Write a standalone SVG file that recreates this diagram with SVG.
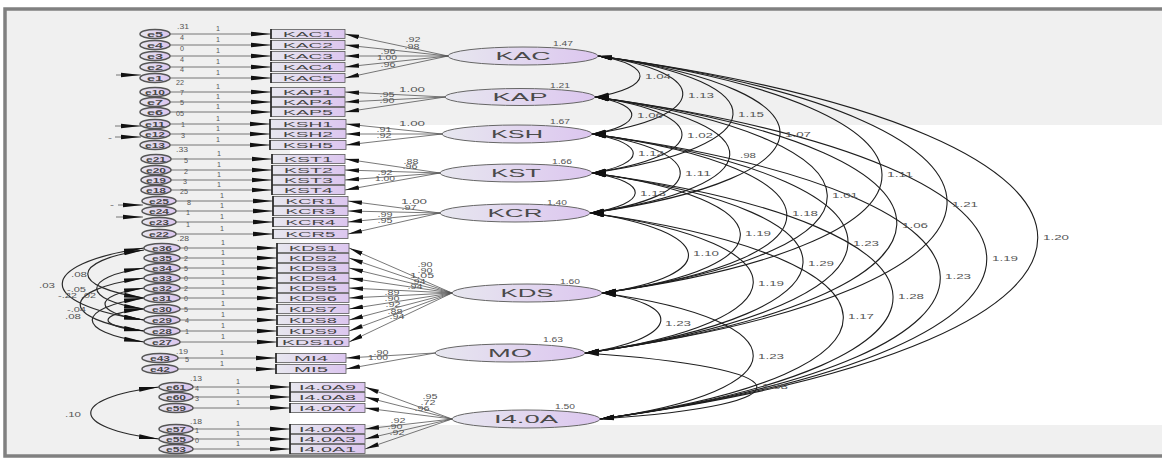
<svg xmlns="http://www.w3.org/2000/svg" width="1162" height="461" viewBox="0 0 1162 461">
<defs>
<linearGradient id="g" x1="0" y1="0" x2="1" y2="0"><stop offset="0" stop-color="#e7e7ef"/><stop offset="1" stop-color="#dcc6ef"/></linearGradient>
<marker id="ah" viewBox="0 0 20 6" markerUnits="userSpaceOnUse" markerWidth="20" markerHeight="6" refX="20" refY="3" orient="auto-start-reverse"><path d="M0,0.7 L20,3 L0,5.3 Z" fill="#111"/></marker>
<marker id="am" viewBox="0 0 14 6" markerUnits="userSpaceOnUse" markerWidth="14" markerHeight="6" refX="14" refY="3" orient="auto-start-reverse"><path d="M0,0.7 L14,3 L0,5.3 Z" fill="#111"/></marker>
</defs>
<style>
text{font-family:"Liberation Sans",Arial,sans-serif}
.ob{fill:url(#g);stroke:#5a5a5a;stroke-width:0.8}
.oe{stroke:#222;stroke-width:1.6}
.lv{fill:url(#g);stroke:#666;stroke-width:1}
.ec{fill:url(#g);stroke:#555;stroke-width:1.5}
.bt{font-size:7.5px;fill:#444}
.et{font-size:7.5px;font-weight:bold;fill:#474747}
.lt{font-size:11px;fill:#4a4a4a}
.nt{font-size:6.5px;fill:#555}
.r{fill:none;stroke:#666;stroke-width:0.9;marker-end:url(#ah)}
.l{fill:none;stroke:#555;stroke-width:0.8;marker-end:url(#am)}
.c{fill:none;stroke:#1e1e1e;stroke-width:1.1;marker-start:url(#am);marker-end:url(#am)}
.ce{fill:none;stroke:#2a2a2a;stroke-width:1.2;marker-start:url(#ah);marker-end:url(#ah)}
</style>
<rect x="0" y="0" width="1162" height="461" fill="#ffffff"/>
<rect x="5" y="9" width="1160" height="447" fill="#f0f0f0" stroke="#808080" stroke-width="3.5"/>
<rect x="290" y="125" width="872" height="300" fill="#ffffff"/>

<g id="connectors">
<path class="r" d="M170,34 L271,34"/><path class="r" d="M170,45 L271,45"/><path class="r" d="M170,56 L271,56"/><path class="r" d="M170,67 L271,67"/><path class="r" d="M170,78 L271,78"/>
<path class="r" d="M170,92 L271,92"/><path class="r" d="M170,102 L271,102"/><path class="r" d="M170,112 L271,112"/>
<path class="r" d="M170,124 L270,124"/><path class="r" d="M170,134 L270,134"/><path class="r" d="M170,145 L270,145"/>
<path class="r" d="M171,159 L272,159"/><path class="r" d="M171,170 L272,170"/><path class="r" d="M171,180 L272,180"/><path class="r" d="M171,190 L272,190"/>
<path class="r" d="M176,201 L273,201"/><path class="r" d="M176,211 L273,211"/><path class="r" d="M176,222 L273,222"/><path class="r" d="M176,234 L273,234"/>
<path class="r" d="M180,248 L277,248"/><path class="r" d="M180,258 L277,258"/><path class="r" d="M180,268 L277,268"/><path class="r" d="M180,278 L277,278"/><path class="r" d="M180,288 L277,288"/><path class="r" d="M180,298 L277,298"/><path class="r" d="M180,309 L277,309"/><path class="r" d="M180,320 L277,320"/><path class="r" d="M180,331 L277,331"/><path class="r" d="M180,342 L277,342"/>
<path class="r" d="M178,358 L276,358"/><path class="r" d="M178,369 L276,369"/>
<path class="r" d="M193,387 L290,387"/><path class="r" d="M193,397 L290,397"/><path class="r" d="M193,408 L290,408"/><path class="r" d="M193,429 L290,429"/><path class="r" d="M193,439 L290,439"/><path class="r" d="M193,449 L290,449"/>
<g class="nt">
<text x="216" y="31" textLength="4" lengthAdjust="spacingAndGlyphs">1</text><text x="216" y="42" textLength="4" lengthAdjust="spacingAndGlyphs">1</text><text x="216" y="53" textLength="4" lengthAdjust="spacingAndGlyphs">1</text><text x="216" y="64" textLength="4" lengthAdjust="spacingAndGlyphs">1</text><text x="216" y="75" textLength="4" lengthAdjust="spacingAndGlyphs">1</text>
<text x="216" y="89" textLength="4" lengthAdjust="spacingAndGlyphs">1</text><text x="216" y="99" textLength="4" lengthAdjust="spacingAndGlyphs">1</text><text x="216" y="109" textLength="4" lengthAdjust="spacingAndGlyphs">1</text>
<text x="216" y="121" textLength="4" lengthAdjust="spacingAndGlyphs">1</text><text x="216" y="131" textLength="4" lengthAdjust="spacingAndGlyphs">1</text><text x="216" y="142" textLength="4" lengthAdjust="spacingAndGlyphs">1</text>
<text x="217" y="156" textLength="4" lengthAdjust="spacingAndGlyphs">1</text><text x="217" y="167" textLength="4" lengthAdjust="spacingAndGlyphs">1</text><text x="217" y="177" textLength="4" lengthAdjust="spacingAndGlyphs">1</text><text x="217" y="187" textLength="4" lengthAdjust="spacingAndGlyphs">1</text>
<text x="220" y="198" textLength="4" lengthAdjust="spacingAndGlyphs">1</text><text x="220" y="208" textLength="4" lengthAdjust="spacingAndGlyphs">1</text><text x="220" y="219" textLength="4" lengthAdjust="spacingAndGlyphs">1</text><text x="220" y="231" textLength="4" lengthAdjust="spacingAndGlyphs">1</text>
<text x="221" y="245" textLength="4" lengthAdjust="spacingAndGlyphs">1</text><text x="221" y="255" textLength="4" lengthAdjust="spacingAndGlyphs">1</text><text x="221" y="265" textLength="4" lengthAdjust="spacingAndGlyphs">1</text><text x="221" y="275" textLength="4" lengthAdjust="spacingAndGlyphs">1</text><text x="221" y="285" textLength="4" lengthAdjust="spacingAndGlyphs">1</text><text x="221" y="295" textLength="4" lengthAdjust="spacingAndGlyphs">1</text><text x="221" y="306" textLength="4" lengthAdjust="spacingAndGlyphs">1</text><text x="221" y="317" textLength="4" lengthAdjust="spacingAndGlyphs">1</text><text x="221" y="328" textLength="4" lengthAdjust="spacingAndGlyphs">1</text><text x="221" y="339" textLength="4" lengthAdjust="spacingAndGlyphs">1</text>
<text x="220" y="355" textLength="4" lengthAdjust="spacingAndGlyphs">1</text><text x="220" y="366" textLength="4" lengthAdjust="spacingAndGlyphs">1</text>
<text x="236" y="384" textLength="4" lengthAdjust="spacingAndGlyphs">1</text><text x="236" y="394" textLength="4" lengthAdjust="spacingAndGlyphs">1</text><text x="236" y="405" textLength="4" lengthAdjust="spacingAndGlyphs">1</text><text x="236" y="426" textLength="4" lengthAdjust="spacingAndGlyphs">1</text><text x="236" y="436" textLength="4" lengthAdjust="spacingAndGlyphs">1</text><text x="236" y="446" textLength="4" lengthAdjust="spacingAndGlyphs">1</text>
</g>
<path class="l" d="M448,56 L345,34"/><path class="l" d="M448,56 L345,45"/><path class="l" d="M448,56 L345,56"/><path class="l" d="M448,56 L345,67"/><path class="l" d="M448,56 L345,78"/>
<path class="l" d="M445,97 L345,92"/><path class="l" d="M445,97 L345,102"/><path class="l" d="M445,97 L345,112"/>
<path class="l" d="M442,134 L346,124"/><path class="l" d="M442,134 L346,134"/><path class="l" d="M442,134 L346,145"/>
<path class="l" d="M440,173 L345,159"/><path class="l" d="M440,173 L345,170"/><path class="l" d="M440,173 L345,180"/><path class="l" d="M440,173 L345,190"/>
<path class="l" d="M440,213 L348,201"/><path class="l" d="M440,213 L348,211"/><path class="l" d="M440,213 L348,222"/><path class="l" d="M440,213 L348,234"/>
<path class="l" d="M452,293 L349,248"/><path class="l" d="M452,293 L349,258"/><path class="l" d="M452,293 L349,268"/><path class="l" d="M452,293 L349,278"/><path class="l" d="M452,293 L349,288"/><path class="l" d="M452,293 L349,298"/><path class="l" d="M452,293 L349,309"/><path class="l" d="M452,293 L349,320"/><path class="l" d="M452,293 L349,331"/><path class="l" d="M452,293 L349,342"/>
<path class="l" d="M435,353 L346,358"/><path class="l" d="M435,353 L346,369"/>
<path class="l" d="M452,419 L365,387"/><path class="l" d="M452,419 L365,397"/><path class="l" d="M452,419 L365,408"/><path class="l" d="M452,419 L365,429"/><path class="l" d="M452,419 L365,439"/><path class="l" d="M452,419 L365,449"/>
<g class="nt">
<text x="405.5" y="42.3" textLength="15" lengthAdjust="spacingAndGlyphs">.92</text><text x="404.5" y="49.3" textLength="15" lengthAdjust="spacingAndGlyphs">.98</text><text x="380.5" y="54.3" textLength="15" lengthAdjust="spacingAndGlyphs">.96</text><text x="377" y="60.3" textLength="20" lengthAdjust="spacingAndGlyphs">1.00</text><text x="380.5" y="67.3" textLength="15" lengthAdjust="spacingAndGlyphs">.96</text>
<text x="399" y="92.3" textLength="26" lengthAdjust="spacingAndGlyphs">1.00</text><text x="379.5" y="97.3" textLength="15" lengthAdjust="spacingAndGlyphs">.95</text><text x="379.5" y="103.3" textLength="15" lengthAdjust="spacingAndGlyphs">.90</text>
<text x="399" y="126.3" textLength="26" lengthAdjust="spacingAndGlyphs">1.00</text><text x="376.5" y="132.3" textLength="15" lengthAdjust="spacingAndGlyphs">.91</text><text x="376.5" y="138.3" textLength="15" lengthAdjust="spacingAndGlyphs">.92</text>
<text x="403.5" y="164.3" textLength="15" lengthAdjust="spacingAndGlyphs">.88</text><text x="402.5" y="169.3" textLength="15" lengthAdjust="spacingAndGlyphs">.96</text><text x="377.5" y="175.3" textLength="15" lengthAdjust="spacingAndGlyphs">.92</text><text x="375" y="181.3" textLength="20" lengthAdjust="spacingAndGlyphs">1.00</text>
<text x="401" y="204.3" textLength="26" lengthAdjust="spacingAndGlyphs">1.00</text><text x="401.5" y="210.3" textLength="15" lengthAdjust="spacingAndGlyphs">.97</text><text x="377.5" y="217.3" textLength="15" lengthAdjust="spacingAndGlyphs">.99</text><text x="377.5" y="223.3" textLength="15" lengthAdjust="spacingAndGlyphs">.95</text>
<text x="417.5" y="267.3" textLength="15" lengthAdjust="spacingAndGlyphs">.90</text><text x="417.5" y="273.3" textLength="15" lengthAdjust="spacingAndGlyphs">.90</text><text x="410" y="278.3" textLength="24" lengthAdjust="spacingAndGlyphs">1.05</text><text x="410.5" y="284.3" textLength="15" lengthAdjust="spacingAndGlyphs">.94</text><text x="407.5" y="289.3" textLength="15" lengthAdjust="spacingAndGlyphs">.94</text><text x="384.5" y="295.3" textLength="15" lengthAdjust="spacingAndGlyphs">.89</text><text x="384.5" y="301.3" textLength="15" lengthAdjust="spacingAndGlyphs">.90</text><text x="385.5" y="307.3" textLength="15" lengthAdjust="spacingAndGlyphs">.92</text><text x="387.5" y="314.3" textLength="15" lengthAdjust="spacingAndGlyphs">.88</text><text x="389.5" y="319.3" textLength="15" lengthAdjust="spacingAndGlyphs">.94</text>
<text x="373.5" y="355.3" textLength="15" lengthAdjust="spacingAndGlyphs">.90</text><text x="368" y="360.3" textLength="20" lengthAdjust="spacingAndGlyphs">1.00</text>
<text x="422.5" y="399.3" textLength="15" lengthAdjust="spacingAndGlyphs">.95</text><text x="420.5" y="405.3" textLength="15" lengthAdjust="spacingAndGlyphs">.72</text><text x="414.5" y="411.3" textLength="15" lengthAdjust="spacingAndGlyphs">.96</text><text x="390.5" y="423.3" textLength="15" lengthAdjust="spacingAndGlyphs">.92</text><text x="387.5" y="429.3" textLength="15" lengthAdjust="spacingAndGlyphs">.90</text><text x="389.5" y="435.3" textLength="15" lengthAdjust="spacingAndGlyphs">.92</text>
</g>
<path class="c" d="M598,56 C656,65 653,88 595,97"/>
<path class="c" d="M598,56 C715,73 709,117 592,134"/>
<path class="c" d="M598,56 C782,82 776,147 592,173"/>
<path class="c" d="M598,56 C846,91 838,178 590,213"/>
<path class="c" d="M598,56 C974,108 978,241 602,293"/>
<path class="c" d="M598,56 C1072,121 1059,288 585,353"/>
<path class="c" d="M598,56 C1183,136 1185,339 600,419"/>
<path class="c" d="M595,97 C646,105 643,126 592,134"/>
<path class="c" d="M595,97 C713,114 710,156 592,173"/>
<path class="c" d="M595,97 C778,123 773,187 590,213"/>
<path class="c" d="M595,97 C900,140 907,250 602,293"/>
<path class="c" d="M595,97 C1004,153 994,297 585,353"/>
<path class="c" d="M595,97 C1114,168 1119,348 600,419"/>
<path class="c" d="M592,134 C647,143 647,164 592,173"/>
<path class="c" d="M592,134 C711,151 709,196 590,213"/>
<path class="c" d="M592,134 C845,169 855,258 602,293"/>
<path class="c" d="M592,134 C938,182 931,305 585,353"/>
<path class="c" d="M592,134 C1051,197 1059,356 600,419"/>
<path class="c" d="M592,173 C651,182 649,204 590,213"/>
<path class="c" d="M592,173 C783,199 793,267 602,293"/>
<path class="c" d="M592,173 C878,213 871,313 585,353"/>
<path class="c" d="M592,173 C988,227 996,365 600,419"/>
<path class="c" d="M590,213 C713,231 725,275 602,293"/>
<path class="c" d="M590,213 C811,244 806,322 585,353"/>
<path class="c" d="M590,213 C921,258 931,374 600,419"/>
<path class="c" d="M602,293 C691,306 674,340 585,353"/>
<path class="c" d="M602,293 C805,321 803,391 600,419"/>
<path class="c" d="M585,353 C804,368 819,404 600,419"/>
<g class="nt">
<text x="645" y="79" textLength="26" lengthAdjust="spacingAndGlyphs">1.04</text><text x="688" y="97.5" textLength="26" lengthAdjust="spacingAndGlyphs">1.13</text><text x="738" y="117" textLength="26" lengthAdjust="spacingAndGlyphs">1.15</text><text x="785" y="137" textLength="26" lengthAdjust="spacingAndGlyphs">1.07</text><text x="887" y="177" textLength="26" lengthAdjust="spacingAndGlyphs">1.11</text><text x="952" y="207" textLength="26" lengthAdjust="spacingAndGlyphs">1.21</text><text x="1043" y="240" textLength="26" lengthAdjust="spacingAndGlyphs">1.20</text>
<text x="637" y="118" textLength="26" lengthAdjust="spacingAndGlyphs">1.06</text><text x="687" y="137.5" textLength="26" lengthAdjust="spacingAndGlyphs">1.02</text><text x="740" y="157.5" textLength="16" lengthAdjust="spacingAndGlyphs">.98</text><text x="832" y="197.5" textLength="26" lengthAdjust="spacingAndGlyphs">1.01</text><text x="902" y="227.5" textLength="26" lengthAdjust="spacingAndGlyphs">1.06</text><text x="992" y="260.5" textLength="26" lengthAdjust="spacingAndGlyphs">1.19</text>
<text x="638" y="156" textLength="26" lengthAdjust="spacingAndGlyphs">1.12</text><text x="685" y="176" textLength="26" lengthAdjust="spacingAndGlyphs">1.11</text><text x="792" y="216" textLength="26" lengthAdjust="spacingAndGlyphs">1.18</text><text x="853" y="246" textLength="26" lengthAdjust="spacingAndGlyphs">1.23</text><text x="945" y="279" textLength="26" lengthAdjust="spacingAndGlyphs">1.23</text>
<text x="640" y="195.5" textLength="26" lengthAdjust="spacingAndGlyphs">1.13</text><text x="745" y="235.5" textLength="26" lengthAdjust="spacingAndGlyphs">1.19</text><text x="808" y="265.5" textLength="26" lengthAdjust="spacingAndGlyphs">1.29</text><text x="898" y="298.5" textLength="26" lengthAdjust="spacingAndGlyphs">1.28</text>
<text x="693" y="255.5" textLength="26" lengthAdjust="spacingAndGlyphs">1.10</text><text x="758" y="285.5" textLength="26" lengthAdjust="spacingAndGlyphs">1.19</text><text x="848" y="318.5" textLength="26" lengthAdjust="spacingAndGlyphs">1.17</text>
<text x="665" y="325.5" textLength="26" lengthAdjust="spacingAndGlyphs">1.23</text><text x="758" y="358.5" textLength="26" lengthAdjust="spacingAndGlyphs">1.23</text>
<text x="762" y="388.5" textLength="26" lengthAdjust="spacingAndGlyphs">1.08</text>
</g>
<path class="r" d="M116,75 L141,75"/>
<path class="r" d="M115,126 L141,126"/><path class="r" d="M115,137 L141,137"/>
<path class="r" d="M118,205 L143,205"/><path class="r" d="M116,217 L143,217"/>
<path class="ce" d="M144,248 C35,264 35,304 144,320"/>
<path class="ce" d="M144,250 C69,261 69,287 144,298"/>
<path class="ce" d="M144,268 C81,277 81,300 144,309"/>
<path class="ce" d="M144,278 C59,290 59,319 144,331"/>
<path class="ce" d="M144,288 C92,295 92,313 144,320"/>
<path class="ce" d="M144,298 C75,308 75,332 144,342"/>
<path class="ce" d="M144,309 C96,314 96,326 144,331"/>
<path class="ce" d="M159,387 C68,398 68,428 159,439"/>
<g class="nt">
<text x="108" y="140" textLength="4" lengthAdjust="spacingAndGlyphs">-</text><text x="110" y="207" textLength="4" lengthAdjust="spacingAndGlyphs">-</text>
<text x="39" y="288.3" textLength="16" lengthAdjust="spacingAndGlyphs">.03</text><text x="71" y="277.3" textLength="16" lengthAdjust="spacingAndGlyphs">.08</text><text x="67" y="292.3" textLength="19" lengthAdjust="spacingAndGlyphs">-.05</text><text x="58" y="298.3" textLength="19" lengthAdjust="spacingAndGlyphs">-.22</text><text x="81" y="298.3" textLength="15" lengthAdjust="spacingAndGlyphs">.02</text><text x="67" y="312.3" textLength="19" lengthAdjust="spacingAndGlyphs">-.04</text><text x="65" y="319.3" textLength="16" lengthAdjust="spacingAndGlyphs">.08</text>
<text x="65" y="417.3" textLength="16" lengthAdjust="spacingAndGlyphs">.10</text>
</g>
</g>

<g id="error-variances" class="nt">
<text x="177" y="28.5" textLength="12" lengthAdjust="spacingAndGlyphs">.31</text><text x="180" y="40" textLength="4" lengthAdjust="spacingAndGlyphs">4</text><text x="180" y="51" textLength="4" lengthAdjust="spacingAndGlyphs">0</text><text x="180" y="62" textLength="4" lengthAdjust="spacingAndGlyphs">4</text><text x="180" y="72" textLength="4" lengthAdjust="spacingAndGlyphs">4</text><text x="176" y="85" textLength="8" lengthAdjust="spacingAndGlyphs">22</text><text x="180" y="95" textLength="4" lengthAdjust="spacingAndGlyphs">7</text><text x="180" y="105" textLength="4" lengthAdjust="spacingAndGlyphs">5</text><text x="176" y="116" textLength="8" lengthAdjust="spacingAndGlyphs">05</text>
<text x="181" y="127" textLength="4" lengthAdjust="spacingAndGlyphs">1</text><text x="181" y="138" textLength="4" lengthAdjust="spacingAndGlyphs">3</text><text x="176" y="152" textLength="12" lengthAdjust="spacingAndGlyphs">.33</text><text x="184" y="163" textLength="4" lengthAdjust="spacingAndGlyphs">5</text><text x="184" y="174" textLength="4" lengthAdjust="spacingAndGlyphs">2</text><text x="183" y="184" textLength="4" lengthAdjust="spacingAndGlyphs">3</text><text x="180" y="194" textLength="8" lengthAdjust="spacingAndGlyphs">25</text>
<text x="187" y="205" textLength="4" lengthAdjust="spacingAndGlyphs">8</text><text x="186" y="215" textLength="4" lengthAdjust="spacingAndGlyphs">1</text><text x="186" y="227" textLength="4" lengthAdjust="spacingAndGlyphs">1</text><text x="177" y="241" textLength="12" lengthAdjust="spacingAndGlyphs">.28</text>
<text x="184" y="251" textLength="4" lengthAdjust="spacingAndGlyphs">0</text><text x="184" y="261" textLength="4" lengthAdjust="spacingAndGlyphs">2</text><text x="184" y="271" textLength="4" lengthAdjust="spacingAndGlyphs">5</text><text x="184" y="281" textLength="4" lengthAdjust="spacingAndGlyphs">0</text><text x="184" y="291" textLength="4" lengthAdjust="spacingAndGlyphs">2</text><text x="184" y="301" textLength="4" lengthAdjust="spacingAndGlyphs">0</text><text x="184" y="312" textLength="4" lengthAdjust="spacingAndGlyphs">5</text><text x="185" y="323" textLength="4" lengthAdjust="spacingAndGlyphs">4</text><text x="185" y="334" textLength="4" lengthAdjust="spacingAndGlyphs">1</text>
<text x="176" y="354" textLength="12" lengthAdjust="spacingAndGlyphs">.19</text><text x="185" y="362" textLength="4" lengthAdjust="spacingAndGlyphs">5</text>
<text x="190" y="381" textLength="12" lengthAdjust="spacingAndGlyphs">.13</text><text x="195" y="391" textLength="4" lengthAdjust="spacingAndGlyphs">4</text><text x="195" y="401" textLength="4" lengthAdjust="spacingAndGlyphs">3</text><text x="190" y="424" textLength="12" lengthAdjust="spacingAndGlyphs">.18</text><text x="195" y="433" textLength="4" lengthAdjust="spacingAndGlyphs">1</text><text x="195" y="443" textLength="4" lengthAdjust="spacingAndGlyphs">0</text>
</g>

<g id="KAC"><ellipse class="lv" cx="523" cy="56" rx="75" ry="9"/><text class="lt" x="495.5" y="60" textLength="55" lengthAdjust="spacingAndGlyphs">KAC</text><text class="nt" x="553" y="46.3" textLength="20" lengthAdjust="spacingAndGlyphs">1.47</text></g>
<g id="KAP"><ellipse class="lv" cx="520" cy="97" rx="75" ry="8.5"/><text class="lt" x="492.5" y="101" textLength="55" lengthAdjust="spacingAndGlyphs">KAP</text><text class="nt" x="550" y="88.3" textLength="20" lengthAdjust="spacingAndGlyphs">1.21</text></g>
<g id="KSH"><ellipse class="lv" cx="517" cy="134" rx="75" ry="9"/><text class="lt" x="491" y="138" textLength="52" lengthAdjust="spacingAndGlyphs">KSH</text><text class="nt" x="550" y="124.3" textLength="20" lengthAdjust="spacingAndGlyphs">1.67</text></g>
<g id="KST"><ellipse class="lv" cx="516" cy="173" rx="76" ry="9"/><text class="lt" x="491" y="177" textLength="50" lengthAdjust="spacingAndGlyphs">KST</text><text class="nt" x="552" y="164.3" textLength="20" lengthAdjust="spacingAndGlyphs">1.66</text></g>
<g id="KCR"><ellipse class="lv" cx="515" cy="213" rx="75" ry="9"/><text class="lt" x="487.5" y="217" textLength="55" lengthAdjust="spacingAndGlyphs">KCR</text><text class="nt" x="547" y="205.3" textLength="20" lengthAdjust="spacingAndGlyphs">1.40</text></g>
<g id="KDS"><ellipse class="lv" cx="527" cy="293" rx="75" ry="9"/><text class="lt" x="500.5" y="297" textLength="53" lengthAdjust="spacingAndGlyphs">KDS</text><text class="nt" x="560" y="284.3" textLength="20" lengthAdjust="spacingAndGlyphs">1.60</text></g>
<g id="MO"><ellipse class="lv" cx="510" cy="353" rx="75" ry="9"/><text class="lt" x="488" y="357" textLength="44" lengthAdjust="spacingAndGlyphs">MO</text><text class="nt" x="543" y="342.3" textLength="20" lengthAdjust="spacingAndGlyphs">1.63</text></g>
<g id="I4.0A"><ellipse class="lv" cx="526" cy="419" rx="74" ry="9"/><text class="lt" x="494" y="423" textLength="64" lengthAdjust="spacingAndGlyphs">I4.0A</text><text class="nt" x="555" y="409.3" textLength="20" lengthAdjust="spacingAndGlyphs">1.50</text></g>

<g id="KAC1"><rect class="ob" x="271" y="29.5" width="74" height="9"/><line class="oe" x1="271" y1="29" x2="271" y2="39"/><text class="bt" x="283" y="36.7" textLength="50" lengthAdjust="spacingAndGlyphs">KAC1</text></g>
<g id="KAC2"><rect class="ob" x="271" y="40.5" width="74" height="9"/><line class="oe" x1="271" y1="40" x2="271" y2="50"/><text class="bt" x="283" y="47.7" textLength="50" lengthAdjust="spacingAndGlyphs">KAC2</text></g>
<g id="KAC3"><rect class="ob" x="271" y="51.5" width="74" height="9"/><line class="oe" x1="271" y1="51" x2="271" y2="61"/><text class="bt" x="283" y="58.7" textLength="50" lengthAdjust="spacingAndGlyphs">KAC3</text></g>
<g id="KAC4"><rect class="ob" x="271" y="62.5" width="74" height="9"/><line class="oe" x1="271" y1="62" x2="271" y2="72"/><text class="bt" x="283" y="69.7" textLength="50" lengthAdjust="spacingAndGlyphs">KAC4</text></g>
<g id="KAC5"><rect class="ob" x="271" y="73.5" width="74" height="9"/><line class="oe" x1="271" y1="73" x2="271" y2="83"/><text class="bt" x="283" y="80.7" textLength="50" lengthAdjust="spacingAndGlyphs">KAC5</text></g>
<g id="KAP1"><rect class="ob" x="271" y="87.5" width="74" height="9"/><line class="oe" x1="271" y1="87" x2="271" y2="97"/><text class="bt" x="283" y="94.7" textLength="50" lengthAdjust="spacingAndGlyphs">KAP1</text></g>
<g id="KAP4"><rect class="ob" x="271" y="97.5" width="74" height="9"/><line class="oe" x1="271" y1="97" x2="271" y2="107"/><text class="bt" x="283" y="104.7" textLength="50" lengthAdjust="spacingAndGlyphs">KAP4</text></g>
<g id="KAP5"><rect class="ob" x="271" y="107.5" width="74" height="9"/><line class="oe" x1="271" y1="107" x2="271" y2="117"/><text class="bt" x="283" y="114.7" textLength="50" lengthAdjust="spacingAndGlyphs">KAP5</text></g>
<g id="KSH1"><rect class="ob" x="270" y="119.5" width="76" height="9"/><line class="oe" x1="270" y1="119" x2="270" y2="129"/><text class="bt" x="283" y="126.7" textLength="50" lengthAdjust="spacingAndGlyphs">KSH1</text></g>
<g id="KSH2"><rect class="ob" x="270" y="129.5" width="76" height="9"/><line class="oe" x1="270" y1="129" x2="270" y2="139"/><text class="bt" x="283" y="136.7" textLength="50" lengthAdjust="spacingAndGlyphs">KSH2</text></g>
<g id="KSH5"><rect class="ob" x="270" y="140.5" width="76" height="9"/><line class="oe" x1="270" y1="140" x2="270" y2="150"/><text class="bt" x="283" y="147.7" textLength="50" lengthAdjust="spacingAndGlyphs">KSH5</text></g>
<g id="KST1"><rect class="ob" x="272" y="154.5" width="73" height="9"/><line class="oe" x1="272" y1="154" x2="272" y2="164"/><text class="bt" x="284" y="161.7" textLength="49" lengthAdjust="spacingAndGlyphs">KST1</text></g>
<g id="KST2"><rect class="ob" x="272" y="165.5" width="73" height="9"/><line class="oe" x1="272" y1="165" x2="272" y2="175"/><text class="bt" x="284" y="172.7" textLength="49" lengthAdjust="spacingAndGlyphs">KST2</text></g>
<g id="KST3"><rect class="ob" x="272" y="175.5" width="73" height="9"/><line class="oe" x1="272" y1="175" x2="272" y2="185"/><text class="bt" x="284" y="182.7" textLength="49" lengthAdjust="spacingAndGlyphs">KST3</text></g>
<g id="KST4"><rect class="ob" x="272" y="185.5" width="73" height="9"/><line class="oe" x1="272" y1="185" x2="272" y2="195"/><text class="bt" x="284" y="192.7" textLength="49" lengthAdjust="spacingAndGlyphs">KST4</text></g>
<g id="KCR1"><rect class="ob" x="273" y="196.5" width="75" height="9"/><line class="oe" x1="273" y1="196" x2="273" y2="206"/><text class="bt" x="285.5" y="203.7" textLength="50" lengthAdjust="spacingAndGlyphs">KCR1</text></g>
<g id="KCR3"><rect class="ob" x="273" y="206.5" width="75" height="9"/><line class="oe" x1="273" y1="206" x2="273" y2="216"/><text class="bt" x="285.5" y="213.7" textLength="50" lengthAdjust="spacingAndGlyphs">KCR3</text></g>
<g id="KCR4"><rect class="ob" x="273" y="217.5" width="75" height="9"/><line class="oe" x1="273" y1="217" x2="273" y2="227"/><text class="bt" x="285.5" y="224.7" textLength="50" lengthAdjust="spacingAndGlyphs">KCR4</text></g>
<g id="KCR5"><rect class="ob" x="273" y="229.5" width="75" height="9"/><line class="oe" x1="273" y1="229" x2="273" y2="239"/><text class="bt" x="285.5" y="236.7" textLength="50" lengthAdjust="spacingAndGlyphs">KCR5</text></g>
<g id="KDS1"><rect class="ob" x="277" y="243.5" width="72" height="9"/><line class="oe" x1="277" y1="243" x2="277" y2="253"/><text class="bt" x="289" y="250.7" textLength="48" lengthAdjust="spacingAndGlyphs">KDS1</text></g>
<g id="KDS2"><rect class="ob" x="277" y="253.5" width="72" height="9"/><line class="oe" x1="277" y1="253" x2="277" y2="263"/><text class="bt" x="289" y="260.7" textLength="48" lengthAdjust="spacingAndGlyphs">KDS2</text></g>
<g id="KDS3"><rect class="ob" x="277" y="263.5" width="72" height="9"/><line class="oe" x1="277" y1="263" x2="277" y2="273"/><text class="bt" x="289" y="270.7" textLength="48" lengthAdjust="spacingAndGlyphs">KDS3</text></g>
<g id="KDS4"><rect class="ob" x="277" y="273.5" width="72" height="9"/><line class="oe" x1="277" y1="273" x2="277" y2="283"/><text class="bt" x="289" y="280.7" textLength="48" lengthAdjust="spacingAndGlyphs">KDS4</text></g>
<g id="KDS5"><rect class="ob" x="277" y="283.5" width="72" height="9"/><line class="oe" x1="277" y1="283" x2="277" y2="293"/><text class="bt" x="289" y="290.7" textLength="48" lengthAdjust="spacingAndGlyphs">KDS5</text></g>
<g id="KDS6"><rect class="ob" x="277" y="293.5" width="72" height="9"/><line class="oe" x1="277" y1="293" x2="277" y2="303"/><text class="bt" x="289" y="300.7" textLength="48" lengthAdjust="spacingAndGlyphs">KDS6</text></g>
<g id="KDS7"><rect class="ob" x="277" y="304.5" width="72" height="9"/><line class="oe" x1="277" y1="304" x2="277" y2="314"/><text class="bt" x="289" y="311.7" textLength="48" lengthAdjust="spacingAndGlyphs">KDS7</text></g>
<g id="KDS8"><rect class="ob" x="277" y="315.5" width="72" height="9"/><line class="oe" x1="277" y1="315" x2="277" y2="325"/><text class="bt" x="289" y="322.7" textLength="48" lengthAdjust="spacingAndGlyphs">KDS8</text></g>
<g id="KDS9"><rect class="ob" x="277" y="326.5" width="72" height="9"/><line class="oe" x1="277" y1="326" x2="277" y2="336"/><text class="bt" x="289" y="333.7" textLength="48" lengthAdjust="spacingAndGlyphs">KDS9</text></g>
<g id="KDS10"><rect class="ob" x="277" y="337.5" width="72" height="9"/><line class="oe" x1="277" y1="337" x2="277" y2="347"/><text class="bt" x="282" y="344.7" textLength="62" lengthAdjust="spacingAndGlyphs">KDS10</text></g>
<g id="MI4"><rect class="ob" x="276" y="353.5" width="70" height="9"/><line class="oe" x1="276" y1="353" x2="276" y2="363"/><text class="bt" x="294" y="360.7" textLength="34" lengthAdjust="spacingAndGlyphs">MI4</text></g>
<g id="MI5"><rect class="ob" x="276" y="364.5" width="70" height="9"/><line class="oe" x1="276" y1="364" x2="276" y2="374"/><text class="bt" x="294" y="371.7" textLength="34" lengthAdjust="spacingAndGlyphs">MI5</text></g>
<g id="I4.0A9"><rect class="ob" x="290" y="382.5" width="75" height="9"/><line class="oe" x1="290" y1="382" x2="290" y2="392"/><text class="bt" x="299" y="389.7" textLength="57" lengthAdjust="spacingAndGlyphs">I4.0A9</text></g>
<g id="I4.0A8"><rect class="ob" x="290" y="392.5" width="75" height="9"/><line class="oe" x1="290" y1="392" x2="290" y2="402"/><text class="bt" x="299" y="399.7" textLength="57" lengthAdjust="spacingAndGlyphs">I4.0A8</text></g>
<g id="I4.0A7"><rect class="ob" x="290" y="403.5" width="75" height="9"/><line class="oe" x1="290" y1="403" x2="290" y2="413"/><text class="bt" x="299" y="410.7" textLength="57" lengthAdjust="spacingAndGlyphs">I4.0A7</text></g>
<g id="I4.0A5"><rect class="ob" x="290" y="424.5" width="75" height="9"/><line class="oe" x1="290" y1="424" x2="290" y2="434"/><text class="bt" x="299" y="431.7" textLength="57" lengthAdjust="spacingAndGlyphs">I4.0A5</text></g>
<g id="I4.0A3"><rect class="ob" x="290" y="434.5" width="75" height="9"/><line class="oe" x1="290" y1="434" x2="290" y2="444"/><text class="bt" x="299" y="441.7" textLength="57" lengthAdjust="spacingAndGlyphs">I4.0A3</text></g>
<g id="I4.0A1"><rect class="ob" x="290" y="444.5" width="75" height="9"/><line class="oe" x1="290" y1="444" x2="290" y2="454"/><text class="bt" x="299" y="451.7" textLength="57" lengthAdjust="spacingAndGlyphs">I4.0A1</text></g>

<g id="e5"><ellipse class="ec" cx="155" cy="34" rx="15" ry="4.5"/><text class="et" x="147" y="36.7" textLength="16" lengthAdjust="spacingAndGlyphs">e5</text></g>
<g id="e4"><ellipse class="ec" cx="155" cy="45" rx="15" ry="4.5"/><text class="et" x="147" y="47.7" textLength="16" lengthAdjust="spacingAndGlyphs">e4</text></g>
<g id="e3"><ellipse class="ec" cx="155" cy="56" rx="15" ry="4.5"/><text class="et" x="147" y="58.7" textLength="16" lengthAdjust="spacingAndGlyphs">e3</text></g>
<g id="e2"><ellipse class="ec" cx="155" cy="67" rx="15" ry="4.5"/><text class="et" x="147" y="69.7" textLength="16" lengthAdjust="spacingAndGlyphs">e2</text></g>
<g id="e1"><ellipse class="ec" cx="155" cy="78" rx="15" ry="4.5"/><text class="et" x="147" y="80.7" textLength="16" lengthAdjust="spacingAndGlyphs">e1</text></g>
<g id="e10"><ellipse class="ec" cx="155" cy="92" rx="15" ry="4.5"/><text class="et" x="145" y="94.7" textLength="20" lengthAdjust="spacingAndGlyphs">e10</text></g>
<g id="e7"><ellipse class="ec" cx="155" cy="102" rx="15" ry="4.5"/><text class="et" x="147" y="104.7" textLength="16" lengthAdjust="spacingAndGlyphs">e7</text></g>
<g id="e6"><ellipse class="ec" cx="155" cy="112" rx="15" ry="4.5"/><text class="et" x="147" y="114.7" textLength="16" lengthAdjust="spacingAndGlyphs">e6</text></g>
<g id="e11"><ellipse class="ec" cx="155" cy="124" rx="15" ry="4.5"/><text class="et" x="145" y="126.7" textLength="20" lengthAdjust="spacingAndGlyphs">e11</text></g>
<g id="e12"><ellipse class="ec" cx="155" cy="134" rx="15" ry="4.5"/><text class="et" x="145" y="136.7" textLength="20" lengthAdjust="spacingAndGlyphs">e12</text></g>
<g id="e13"><ellipse class="ec" cx="155" cy="145" rx="15" ry="4.5"/><text class="et" x="145" y="147.7" textLength="20" lengthAdjust="spacingAndGlyphs">e13</text></g>
<g id="e21"><ellipse class="ec" cx="156" cy="159" rx="15" ry="4.5"/><text class="et" x="146" y="161.7" textLength="20" lengthAdjust="spacingAndGlyphs">e21</text></g>
<g id="e20"><ellipse class="ec" cx="156" cy="170" rx="15" ry="4.5"/><text class="et" x="146" y="172.7" textLength="20" lengthAdjust="spacingAndGlyphs">e20</text></g>
<g id="e19"><ellipse class="ec" cx="156" cy="180" rx="15" ry="4.5"/><text class="et" x="146" y="182.7" textLength="20" lengthAdjust="spacingAndGlyphs">e19</text></g>
<g id="e18"><ellipse class="ec" cx="156" cy="190" rx="15" ry="4.5"/><text class="et" x="146" y="192.7" textLength="20" lengthAdjust="spacingAndGlyphs">e18</text></g>
<g id="e25"><ellipse class="ec" cx="159" cy="201" rx="17" ry="4.5"/><text class="et" x="149" y="203.7" textLength="20" lengthAdjust="spacingAndGlyphs">e25</text></g>
<g id="e24"><ellipse class="ec" cx="159" cy="211" rx="17" ry="4.5"/><text class="et" x="149" y="213.7" textLength="20" lengthAdjust="spacingAndGlyphs">e24</text></g>
<g id="e23"><ellipse class="ec" cx="159" cy="222" rx="17" ry="4.5"/><text class="et" x="149" y="224.7" textLength="20" lengthAdjust="spacingAndGlyphs">e23</text></g>
<g id="e22"><ellipse class="ec" cx="159" cy="234" rx="17" ry="4.5"/><text class="et" x="149" y="236.7" textLength="20" lengthAdjust="spacingAndGlyphs">e22</text></g>
<g id="e36"><ellipse class="ec" cx="162" cy="248" rx="18" ry="4.5"/><text class="et" x="152" y="250.7" textLength="20" lengthAdjust="spacingAndGlyphs">e36</text></g>
<g id="e35"><ellipse class="ec" cx="162" cy="258" rx="18" ry="4.5"/><text class="et" x="152" y="260.7" textLength="20" lengthAdjust="spacingAndGlyphs">e35</text></g>
<g id="e34"><ellipse class="ec" cx="162" cy="268" rx="18" ry="4.5"/><text class="et" x="152" y="270.7" textLength="20" lengthAdjust="spacingAndGlyphs">e34</text></g>
<g id="e33"><ellipse class="ec" cx="162" cy="278" rx="18" ry="4.5"/><text class="et" x="152" y="280.7" textLength="20" lengthAdjust="spacingAndGlyphs">e33</text></g>
<g id="e32"><ellipse class="ec" cx="162" cy="288" rx="18" ry="4.5"/><text class="et" x="152" y="290.7" textLength="20" lengthAdjust="spacingAndGlyphs">e32</text></g>
<g id="e31"><ellipse class="ec" cx="162" cy="298" rx="18" ry="4.5"/><text class="et" x="152" y="300.7" textLength="20" lengthAdjust="spacingAndGlyphs">e31</text></g>
<g id="e30"><ellipse class="ec" cx="162" cy="309" rx="18" ry="4.5"/><text class="et" x="152" y="311.7" textLength="20" lengthAdjust="spacingAndGlyphs">e30</text></g>
<g id="e29"><ellipse class="ec" cx="162" cy="320" rx="18" ry="4.5"/><text class="et" x="152" y="322.7" textLength="20" lengthAdjust="spacingAndGlyphs">e29</text></g>
<g id="e28"><ellipse class="ec" cx="162" cy="331" rx="18" ry="4.5"/><text class="et" x="152" y="333.7" textLength="20" lengthAdjust="spacingAndGlyphs">e28</text></g>
<g id="e27"><ellipse class="ec" cx="162" cy="342" rx="18" ry="4.5"/><text class="et" x="152" y="344.7" textLength="20" lengthAdjust="spacingAndGlyphs">e27</text></g>
<g id="e43"><ellipse class="ec" cx="160" cy="358" rx="18" ry="4.5"/><text class="et" x="150" y="360.7" textLength="20" lengthAdjust="spacingAndGlyphs">e43</text></g>
<g id="e42"><ellipse class="ec" cx="160" cy="369" rx="18" ry="4.5"/><text class="et" x="150" y="371.7" textLength="20" lengthAdjust="spacingAndGlyphs">e42</text></g>
<g id="e61"><ellipse class="ec" cx="176" cy="387" rx="17" ry="4.5"/><text class="et" x="166" y="389.7" textLength="20" lengthAdjust="spacingAndGlyphs">e61</text></g>
<g id="e60"><ellipse class="ec" cx="176" cy="397" rx="17" ry="4.5"/><text class="et" x="166" y="399.7" textLength="20" lengthAdjust="spacingAndGlyphs">e60</text></g>
<g id="e59"><ellipse class="ec" cx="176" cy="408" rx="17" ry="4.5"/><text class="et" x="166" y="410.7" textLength="20" lengthAdjust="spacingAndGlyphs">e59</text></g>
<g id="e57"><ellipse class="ec" cx="176" cy="429" rx="17" ry="4.5"/><text class="et" x="166" y="431.7" textLength="20" lengthAdjust="spacingAndGlyphs">e57</text></g>
<g id="e55"><ellipse class="ec" cx="176" cy="439" rx="17" ry="4.5"/><text class="et" x="166" y="441.7" textLength="20" lengthAdjust="spacingAndGlyphs">e55</text></g>
<g id="e53"><ellipse class="ec" cx="176" cy="449" rx="17" ry="4.5"/><text class="et" x="166" y="451.7" textLength="20" lengthAdjust="spacingAndGlyphs">e53</text></g>
</svg>
